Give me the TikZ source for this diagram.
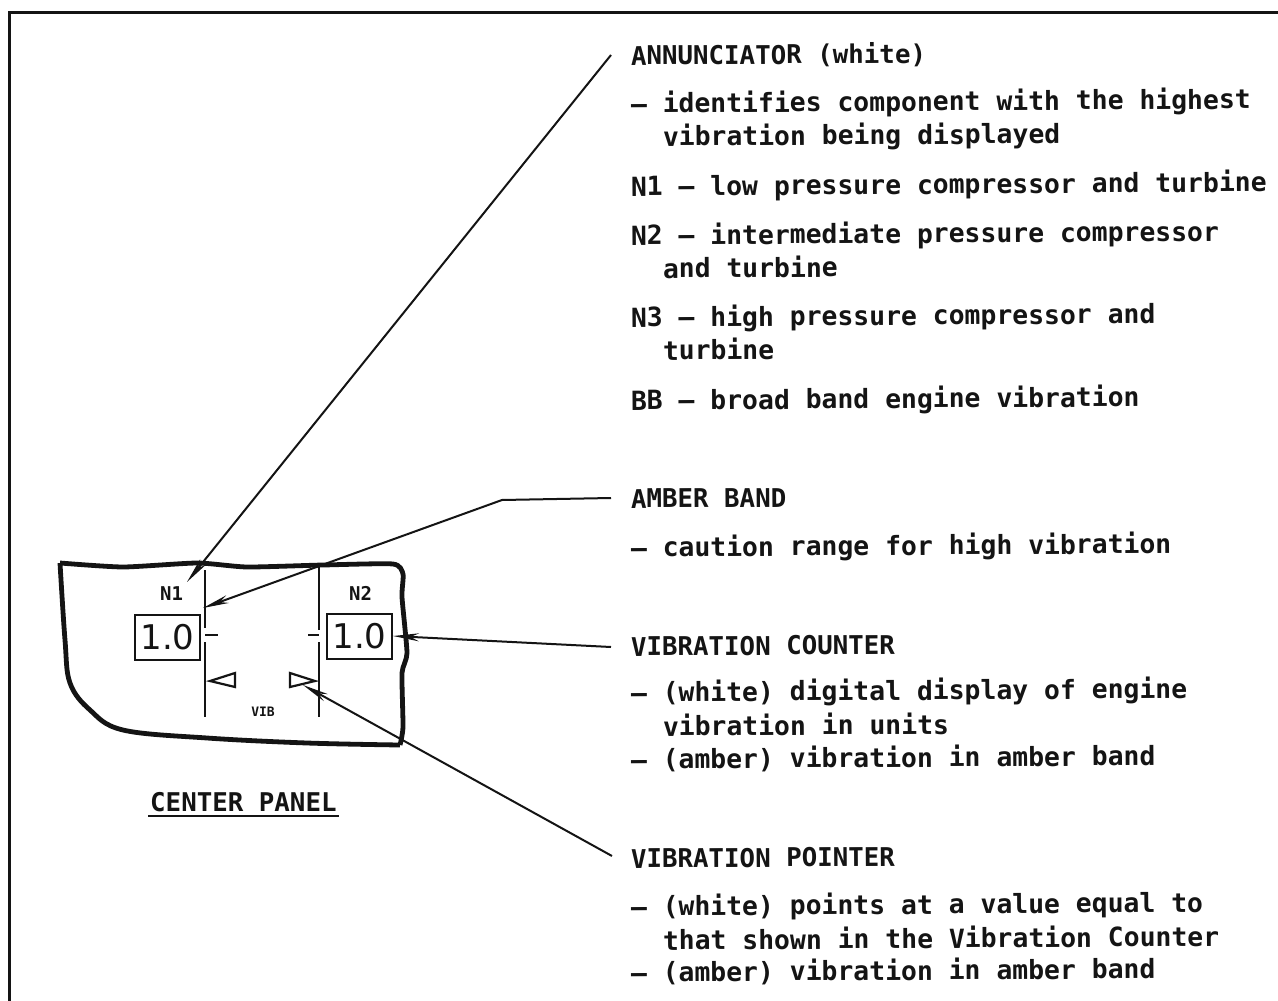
\documentclass[tikz,border=0pt]{standalone}
\usepackage{fontspec}
\usetikzlibrary{arrows.meta}
\newfontfamily\monor{DejaVu Sans Mono}
\newfontfamily\sansr{DejaVu Sans}
\newcommand{\monob}{\monor\bfseries}
\definecolor{ink}{HTML}{141414}
\tikzset{
  txt/.style={anchor=base west,inner sep=0pt,outer sep=0pt,rotate=0.4,text=ink,font=\monob\fontsize{26.4}{30}\selectfont},
  head/.style={txt,font=\monob\fontsize{25.8}{30}\selectfont},
  panel/.style={draw=ink,line width=4.8pt,line join=round},
  bar/.style={draw=ink,line width=2.2pt},
  counter/.style={draw=ink,line width=2pt,minimum width=65pt,minimum height=45pt,inner sep=0pt,text=ink,font=\sansr\fontsize{34}{35}\selectfont},
  mini/.style={inner sep=0pt,text=ink,font=\monob\fontsize{19}{20}\selectfont},
  pointer/.style={draw=ink,line width=2.2pt,line join=miter},
  leader/.style={draw=ink,line width=2pt},
  tipped/.style={-{Stealth[length=26pt,width=8pt]}}
}
\begin{document}
\begin{tikzpicture}[x=1pt,y=-1pt]
\useasboundingbox (0,0) rectangle (1278,1001);
\fill[white] (0,0) rectangle (1278,1001);
% page frame
\draw[ink,line width=3pt] (9,1001) -- (9,12) -- (1278,12);

% panel outline
\draw[panel] plot[smooth,tension=0.35] coordinates {(60,563) (123,567) (197,563) (247,567) (323,565) (393,564) (403,574) (402,597) (407,653) (402,673) (403,727) (400,745)};
\draw[panel] plot[smooth,tension=0.6] coordinates {(400,745) (307,743) (207,738) (123,730) (90,710) (70,683) (65,640) (60,563)};

% scales
\draw[bar] (205,570) -- (205,628) (205,642) -- (205,717) (205,635) -- (218,635);
\draw[bar] (319,565) -- (319,630) (319,642) -- (319,717) (308,635) -- (319,635);

% readouts
\node[counter] (ctrL) at (167.5,637.5) {1.0};
\node[counter] (ctrR) at (359.5,636) {1.0};
\node[mini] (n1) at (171.5,593.5) {N1};
\node[mini] (n2) at (360.5,593) {N2};
\node[mini,font=\monob\fontsize{13}{14}\selectfont] (vib) at (263,711.5) {VIB};

% pointers
\draw[pointer] (210,681) -- (235,673) -- (235,687) -- cycle;
\draw[pointer] (315,681) -- (290,673) -- (290,687) -- cycle;

% caption
\node[anchor=base west,inner sep=0pt,text=ink,font=\monob\fontsize{25.8}{28}\selectfont] (cap) at (150,811) {CENTER PANEL};
\draw[ink,line width=2.6pt] (148,816) -- (339,816);

% labels
\node[head] (annT) at (631,65) {ANNUNCIATOR (white)};
\node[txt] at (631,113) {– identifies component with the highest};
\node[txt] at (663,146) {vibration being displayed};
\node[txt] at (631,196) {N1 – low pressure compressor and turbine};
\node[txt] at (631,245) {N2 – intermediate pressure compressor};
\node[txt] at (663,278) {and turbine};
\node[txt] at (631,327) {N3 – high pressure compressor and};
\node[txt] at (663,360) {turbine};
\node[txt] at (631,410) {BB – broad band engine vibration};
\node[head] (ambT) at (631,508) {AMBER BAND};
\node[txt] at (631,557) {– caution range for high vibration};
\node[head] (ctrT) at (631,656) {VIBRATION COUNTER};
\node[txt] at (631,702) {– (white) digital display of engine};
\node[txt] at (663,736) {vibration in units};
\node[txt] at (631,769) {– (amber) vibration in amber band};
\node[head] (ptrT) at (631,868) {VIBRATION POINTER};
\node[txt] at (631,916) {– (white) points at a value equal to};
\node[txt] at (663,950) {that shown in the Vibration Counter};
\node[txt] at (631,982) {– (amber) vibration in amber band};

% leader ends
\coordinate (annS) at (611,55);
\coordinate (annE) at (187,582);
\coordinate (ambS) at (611,498);
\coordinate (ambM) at (502,500);
\coordinate (ambE) at (203,608);
\coordinate (ctrS) at (611,647);
\coordinate (ptrS) at (612,856);
\coordinate (ptrE) at (303,685);

\draw[leader,tipped] (annS) -- (annE);
\draw[leader,tipped,line join=round] (ambS) -- (ambM) -- (ambE);
\draw[leader,tipped] (ctrS) -- (ctrR.east);
\draw[leader,tipped] (ptrS) -- (ptrE);
\end{tikzpicture}
\end{document}
